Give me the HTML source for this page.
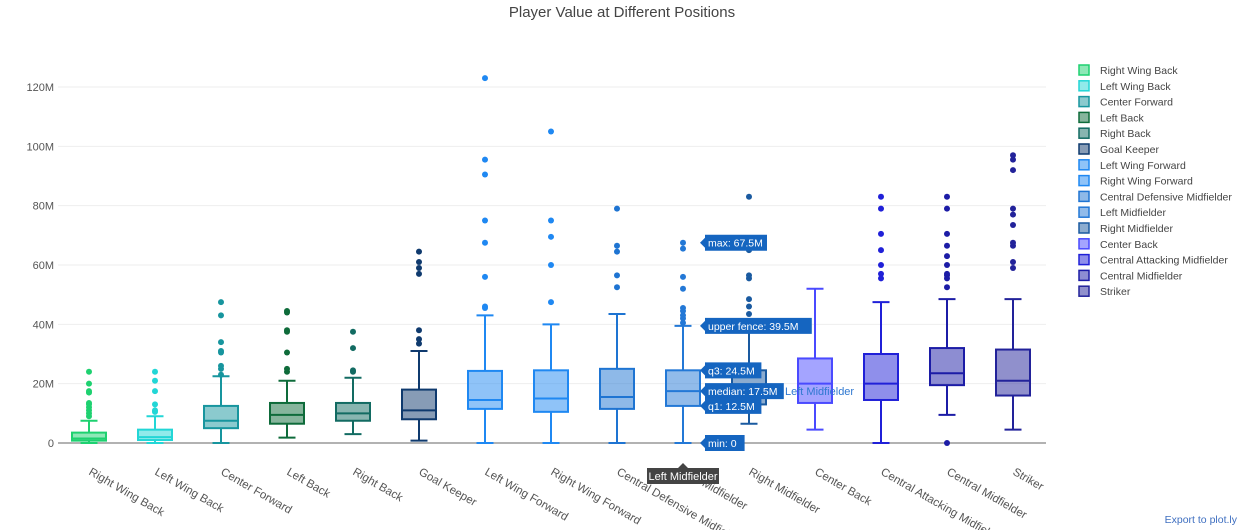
<!DOCTYPE html>
<html><head><meta charset="utf-8">
<style>
body{margin:0;background:#fff;font-family:"Liberation Sans",Arial,sans-serif;}
svg{display:block}
</style></head>
<body>
<svg id="chart" width="1242" height="530" xmlns="http://www.w3.org/2000/svg">
<text x="622" y="17" text-anchor="middle" font-size="15" fill="#444">Player Value at Different Positions</text>
<g id="grid"></g><g id="boxes"></g><g id="xlabels"></g><g id="legend"></g><g id="tips"></g>
<text x="1237" y="523" text-anchor="end" font-size="10.5" fill="#3f6fc0">Export to plot.ly</text>
</svg>
<script>
const categories=["Right Wing Back","Left Wing Back","Center Forward","Left Back","Right Back","Goal Keeper","Left Wing Forward","Right Wing Forward","Central Defensive Midfielder","Left Midfielder","Right Midfielder","Center Back","Central Attacking Midfielder","Central Midfielder","Striker"];
const colors=["#1ed170","#22d6d6","#17959e","#0e6b3a","#126b62","#0f3a6e","#1f88f2","#1f88f2","#1e74d2","#2378d6","#1a5aa0","#4a4aff","#2020d8","#1c1ca6","#22229a"];
const mins=[0,0,0,1.8,3,0.8,0,0,0,0,6.5,4.5,0,9.5,4.5];
const q1s=[0.8,1,5,6.5,7.5,8,11.5,10.5,11.5,12.5,13,13.5,14.5,19.5,16];
const medians=[1.5,2,7.5,9.5,10,11,14.5,15,15.5,17.5,18,20,20,23.5,21];
const q3s=[3.5,4.5,12.5,13.5,13.5,18,24.3,24.5,25,24.5,24.5,28.5,30,32,31.5];
const fences=[7.5,9,22.5,21,22,31,43,40,43.5,39.5,39,52,47.5,48.5,48.5];
const outliers=[[9,10,11,12,13,13.5,17,17.5,20,24],[10.5,11,13,17.5,21,24],[23,25,26,30.5,31,34,43,47.5],[24,25,30.5,37.5,38,44,44.5],[24,24.5,32,37.5],[33.5,35,38,57,59,61,64.5],[45.5,46,56,67.5,75,90.5,95.5,123],[47.5,60,69.5,75,105],[52.5,56.5,64.5,66.5,79],[40.5,42,43,44.5,45.5,52,56,65.5,67.5],[43.5,46,48.5,55.5,56.5,65,83],[],[55.5,57,60,65,70.5,79,83],[0,52.5,55.5,56.5,57,60,63,66.5,70.5,79,83],[59,61,66.5,67.5,73.5,77,79,92,95.5,97]];
const yTicks=[0,20,40,60,80,100,120];
const NS="http://www.w3.org/2000/svg";
const y=v=>443-v*2.9667;
const x=i=>89+i*66;
function mk(tag,attrs,parent){const e=document.createElementNS(NS,tag);for(const k in attrs)e.setAttribute(k,attrs[k]);parent.appendChild(e);return e;}
const grid=document.getElementById('grid');
yTicks.forEach(t=>{
  const l=mk('line',{x1:58,x2:1046,y1:y(t),y2:y(t),stroke:t===0?'#999':'#eee','stroke-width':t===0?1.5:1},grid);
  
  
  const tx=mk('text',{x:54,y:y(t)+4,'text-anchor':'end','font-size':11,fill:'#555'},grid);
  tx.textContent=t===0?'0':t+'M';
  
  
});
const boxes=document.getElementById('boxes');
const xl=document.getElementById('xlabels');
const leg=document.getElementById('legend');
categories.forEach((c,i)=>{
  const g=mk('g',{},boxes);
  
  
  const cx=x(i),w=17,col=colors[i];
  mk('line',{x1:cx,x2:cx,y1:y(fences[i]),y2:y(q3s[i]),stroke:col,'stroke-width':2},g);
  mk('line',{x1:cx,x2:cx,y1:y(q1s[i]),y2:y(mins[i]),stroke:col,'stroke-width':2},g);
  mk('line',{x1:cx-8.5,x2:cx+8.5,y1:y(fences[i]),y2:y(fences[i]),stroke:col,'stroke-width':2},g);
  mk('line',{x1:cx-8.5,x2:cx+8.5,y1:y(mins[i]),y2:y(mins[i]),stroke:col,'stroke-width':2},g);
  mk('rect',{x:cx-w,y:y(q3s[i]),width:2*w,height:y(q1s[i])-y(q3s[i]),fill:col,'fill-opacity':0.5,stroke:col,'stroke-width':2},g);
  mk('line',{x1:cx-w,x2:cx+w,y1:y(medians[i]),y2:y(medians[i]),stroke:col,'stroke-width':2},g);
  outliers[i].forEach(o=>{
    const d=mk('circle',{cx:cx,cy:y(o),r:3,fill:col},g);
    
    
  });
  const t=mk('text',{x:cx-1,y:474,'font-size':11.5,fill:'#555',transform:`rotate(30 ${cx-1} 474)`},xl);
  t.textContent=c;
  
  
  const lg=mk('g',{},leg);
  
  
  const ly=70+i*15.8;
  mk('rect',{x:1079,y:ly-5,width:10,height:10,fill:col,'fill-opacity':0.5,stroke:col,'stroke-width':1.5},lg);
  const lt=mk('text',{x:1100,y:ly+4,'font-size':10.5,fill:'#444'},lg);
  lt.textContent=c;
});
const tips=document.getElementById('tips');
const nl=mk('text',{x:785,y:395,'font-size':11,fill:'#2f78d0'},tips);nl.textContent='Left Midfielder';


const tipVals=[["max: 67.5M",67.5],["upper fence: 39.5M",39.5],["q3: 24.5M",24.5],["median: 17.5M",17.5],["q1: 12.5M",12.5],["min: 0",0]];
tipVals.forEach(([s,v])=>{
  const ty=y(v);const w=s.length*5.6+6;
  const g=mk('g',{},tips);
  
  
  mk('path',{d:`M700 ${ty} L705 ${ty-5} L705 ${ty-8} L${705+w} ${ty-8} L${705+w} ${ty+8} L705 ${ty+8} L705 ${ty+5}Z`,fill:'#1565c0'},g);
  const t=mk('text',{x:708,y:ty+4,'font-size':10.5,fill:'#fff'},g);t.textContent=s;
});
const xg=mk('g',{},tips);


mk('path',{d:'M647 468 L678 468 L683 463 L688 468 L719 468 L719 484 L647 484Z',fill:'#444'},xg);
const xt=mk('text',{x:683,y:480,'text-anchor':'middle','font-size':11,fill:'#fff'},xg);xt.textContent='Left Midfielder';
</script>
</body></html>
